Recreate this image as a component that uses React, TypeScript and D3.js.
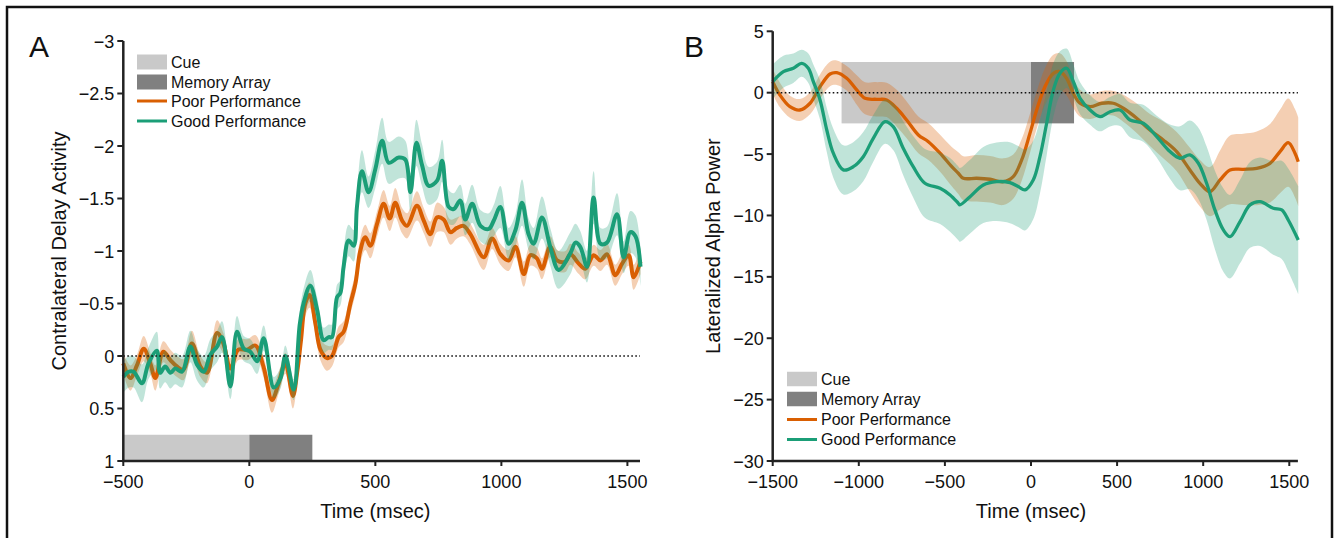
import React from 'react';
import * as d3 from 'd3';

// ---------- Panel A data: [time (ms), value, half-width of band] ----------
const poorA: [number, number, number][] = [
  [-500, 0.07, 0.1], [-472, 0.21, 0.12], [-446, 0.09, 0.1], [-419, -0.07, 0.12], [-393, 0.07, 0.1],
  [-373, 0.21, 0.12], [-341, -0.04, 0.1], [-313, 0.04, 0.1], [-287, 0.1, 0.1], [-261, 0.13, 0.1],
  [-228, -0.12, 0.12], [-194, 0.1, 0.1], [-168, 0.16, 0.1], [-128, -0.22, 0.12], [-103, -0.12, 0.1],
  [-75, 0.12, 0.1], [-44, -0.06, 0.1], [-9, -0.06, 0.1], [24, -0.1, 0.1], [56, 0.1, 0.1],
  [90, 0.42, 0.12], [115, 0.27, 0.1], [143, 0.07, 0.1], [173, 0.38, 0.12], [190, 0.15, 0.1],
  [205, -0.15, 0.1], [222, -0.5, 0.12], [239, -0.58, 0.12], [262, -0.31, 0.1], [282, -0.06, 0.1],
  [308, 0.02, 0.12], [328, 0.0, 0.1], [354, -0.18, 0.1], [374, -0.23, 0.1], [401, -0.5, 0.1],
  [421, -0.69, 0.1], [440, -1.0, 0.12], [460, -1.13, 0.12], [480, -1.05, 0.12], [507, -1.26, 0.12],
  [533, -1.45, 0.13], [557, -1.31, 0.12], [579, -1.46, 0.14], [606, -1.29, 0.12], [626, -1.24, 0.12],
  [665, -1.43, 0.14], [692, -1.29, 0.12], [718, -1.16, 0.12], [745, -1.32, 0.14], [771, -1.3, 0.12],
  [798, -1.18, 0.12], [824, -1.22, 0.1], [850, -1.24, 0.1], [877, -1.16, 0.1], [930, -0.94, 0.12],
  [963, -1.12, 0.1], [996, -0.97, 0.1], [1029, -0.91, 0.1], [1056, -1.04, 0.1], [1089, -0.78, 0.12],
  [1115, -0.96, 0.1], [1141, -0.93, 0.1], [1161, -0.83, 0.1], [1194, -1.04, 0.1], [1221, -0.91, 0.1],
  [1254, -0.9, 0.1], [1274, -0.97, 0.1], [1307, -0.88, 0.1], [1333, -0.83, 0.1], [1366, -0.96, 0.1],
  [1393, -0.91, 0.1], [1419, -0.97, 0.1], [1452, -0.77, 0.1], [1479, -0.88, 0.1], [1505, -0.96, 0.1],
  [1525, -0.75, 0.12], [1552, -0.9, 0.12],
];

const goodA: [number, number, number][] = [
  [-500, 0.2, 0.15], [-479, 0.15, 0.15], [-459, 0.15, 0.15], [-426, 0.26, 0.18], [-400, 0.07, 0.15],
  [-367, -0.05, 0.18], [-354, 0.16, 0.15], [-334, 0.1, 0.15], [-313, 0.16, 0.15], [-294, 0.12, 0.15],
  [-267, 0.15, 0.15], [-234, -0.09, 0.15], [-208, 0.08, 0.15], [-181, 0.15, 0.15], [-155, -0.01, 0.15],
  [-128, -0.09, 0.15], [-108, -0.18, 0.15], [-75, 0.29, 0.12], [-49, -0.23, 0.15], [-22, -0.07, 0.12],
  [4, -0.04, 0.12], [31, 0.05, 0.12], [57, -0.17, 0.12], [97, 0.3, 0.1], [124, 0.21, 0.1],
  [143, 0.0, 0.1], [176, 0.32, 0.1], [200, -0.3, 0.12], [215, -0.5, 0.14], [242, -0.67, 0.15],
  [269, -0.44, 0.12], [295, -0.15, 0.12], [315, -0.18, 0.12], [328, -0.18, 0.12], [348, -0.56, 0.12],
  [361, -0.6, 0.12], [374, -0.85, 0.15], [394, -1.1, 0.15], [414, -1.05, 0.15], [427, -1.42, 0.15],
  [447, -1.76, 0.2], [473, -1.56, 0.15], [500, -1.78, 0.18], [527, -2.05, 0.22], [553, -1.84, 0.2],
  [593, -1.89, 0.2], [619, -1.87, 0.18], [639, -1.56, 0.18], [663, -2.03, 0.22], [685, -1.82, 0.2],
  [712, -1.62, 0.18], [745, -1.67, 0.18], [765, -1.86, 0.2], [791, -1.42, 0.16], [811, -1.4, 0.15],
  [837, -1.48, 0.15], [857, -1.3, 0.15], [884, -1.45, 0.18], [917, -1.24, 0.15], [950, -1.21, 0.15],
  [970, -1.29, 0.15], [996, -1.42, 0.2], [1029, -1.07, 0.15], [1056, -1.2, 0.15], [1082, -1.46, 0.22],
  [1108, -1.16, 0.15], [1128, -1.07, 0.15], [1161, -1.32, 0.2], [1194, -1.04, 0.18], [1227, -0.82, 0.18],
  [1274, -0.98, 0.2], [1294, -1.08, 0.18], [1313, -1.04, 0.15], [1340, -0.85, 0.15], [1366, -1.51, 0.25],
  [1393, -1.07, 0.15], [1419, -1.08, 0.15], [1459, -1.35, 0.2], [1485, -0.94, 0.15], [1512, -1.18, 0.2],
  [1532, -1.14, 0.2], [1552, -0.85, 0.18],
];

// ---------- Panel B data: [time (ms), value, half-width of band] ----------
const poorB: [number, number, number][] = [
  [-1500, 0.9, 1.0], [-1458, -0.19, 1.0], [-1400, -1.14, 0.9], [-1342, -1.41, 0.9], [-1283, -0.86, 0.9],
  [-1225, 0.49, 1.0], [-1167, 1.52, 1.0], [-1128, 1.63, 1.0], [-1070, 1.17, 1.0], [-1012, 0.22, 1.2],
  [-964, -0.46, 1.3], [-896, -0.54, 1.4], [-838, -0.59, 1.4], [-780, -1.27, 1.5], [-722, -2.22, 1.5],
  [-654, -3.44, 1.5], [-596, -3.99, 1.5], [-528, -4.93, 1.5], [-460, -6.03, 1.6], [-422, -6.56, 1.7],
  [-393, -6.97, 1.8], [-315, -6.97, 1.9], [-238, -7.05, 1.9], [-161, -7.25, 1.9], [-103, -6.84, 1.8],
  [-54, -5.48, 1.7], [-6, -3.31, 1.6], [33, -1.41, 1.5], [81, 0.49, 1.5], [130, 1.58, 1.5],
  [168, 1.71, 1.5], [207, 1.17, 1.4], [246, -0.05, 1.2], [285, -0.86, 1.1], [343, -1.14, 1.0],
  [411, -0.86, 1.0], [478, -0.86, 1.0], [536, -1.27, 1.1], [614, -2.08, 1.2], [691, -3.04, 1.3],
  [768, -3.85, 1.5], [846, -4.8, 1.6], [923, -6.29, 1.8], [981, -7.38, 1.9], [1039, -8.06, 2.0],
  [1098, -7.11, 2.4], [1156, -6.29, 2.8], [1233, -6.24, 2.9], [1311, -6.16, 3.0], [1388, -5.75, 3.2],
  [1446, -4.8, 3.4], [1494, -4.07, 3.6], [1533, -4.93, 3.6], [1552, -5.62, 3.6],
];

const goodB: [number, number, number][] = [
  [-1500, 0.9, 1.4], [-1438, 1.71, 1.3], [-1380, 1.99, 1.2], [-1332, 2.39, 1.1], [-1293, 1.99, 1.2],
  [-1264, 0.9, 1.4], [-1225, -0.59, 1.6], [-1186, -3.04, 1.8], [-1148, -4.93, 2.0], [-1090, -6.29, 2.0],
  [-1032, -6.03, 2.0], [-974, -5.21, 2.0], [-916, -3.72, 1.9], [-848, -2.36, 1.8], [-800, -2.77, 1.9],
  [-742, -4.53, 2.2], [-684, -6.03, 2.5], [-616, -7.38, 2.8], [-528, -7.79, 2.9], [-470, -8.33, 3.0],
  [-422, -9.01, 3.0], [-413, -9.14, 3.0], [-354, -8.47, 3.0], [-277, -7.52, 3.1], [-200, -7.25, 3.2],
  [-122, -7.33, 3.3], [-74, -7.65, 3.3], [-35, -7.92, 3.3], [13, -7.11, 3.2], [52, -5.21, 3.0],
  [91, -2.49, 2.6], [130, 0.22, 2.2], [168, 1.58, 1.8], [207, 1.99, 1.6], [246, 0.9, 1.4],
  [285, -0.46, 1.3], [343, -1.41, 1.2], [401, -1.95, 1.2], [459, -1.55, 1.2], [517, -1.41, 1.3],
  [575, -2.22, 1.4], [652, -2.49, 1.5], [730, -3.58, 1.7], [807, -4.8, 2.2], [865, -5.34, 2.6],
  [923, -5.07, 2.8], [972, -5.75, 2.9], [1020, -7.38, 3.0], [1068, -9.55, 3.2], [1117, -11.18, 3.4],
  [1156, -11.73, 3.4], [1214, -10.5, 3.4], [1272, -9.14, 3.5], [1330, -8.88, 3.6], [1407, -9.41, 3.8],
  [1456, -9.55, 4.0], [1494, -10.37, 4.2], [1552, -12.0, 4.4],
];

// ---------- Axis ticks ----------
const ticksAX = [-500, 0, 500, 1000, 1500];
const ticksAY = [-3, -2.5, -2, -1.5, -1, -0.5, 0, 0.5, 1];
const ticksBX = [-1500, -1000, -500, 0, 500, 1000, 1500];
const ticksBY = [5, 0, -5, -10, -15, -20, -25, -30];

// event windows [start, end]
const cueA: [number, number] = [-500, 0];
const memA: [number, number] = [0, 250];
const cueB: [number, number] = [-1100, 0];
const memB: [number, number] = [0, 250];

const legendItems = ['Cue', 'Memory Array', 'Poor Performance', 'Good Performance'];

const ORANGE = '#d95f02';
const GREEN = '#1b9e77';
const CUE = '#c9c9c9';
const MEM = '#808080';
const AXIS = '#222';
const FONT = '"Liberation Sans", Arial, Helvetica, sans-serif';

const fmt = (v: number) => (v < 0 ? '\u2212' + String(Math.abs(v)) : String(v));

type Series = [number, number, number][];

function Panel(props: {
  x: d3.ScaleLinear<number, number>;
  y: d3.ScaleLinear<number, number>;
  xTicks: number[];
  yTicks: number[];
  poor: Series;
  good: Series;
  cue: [number, number];
  mem: [number, number];
  barY: [number, number];
  lineW: number;
  letter: string;
  letterX: number;
  yTitle: string;
  yTitleX: number;
  xTitleAt: number;
  legendX: number;
  legendRows: number[];
  legendRectH: number;
}) {
  const { x, y } = props;
  const [x0, x1] = x.range();
  const [yTop, yBot] = [y.range()[0], y.range()[1]];
  const curve = d3.curveCatmullRom.alpha(0.5);
  const line = d3.line<[number, number, number]>().x(d => x(d[0])).y(d => y(d[1])).curve(curve);
  const area = d3
    .area<[number, number, number]>()
    .x(d => x(d[0]))
    .y0(d => y(d[1] - d[2]))
    .y1(d => y(d[1] + d[2]))
    .curve(curve);
  const lx = props.legendX;
  return (
    <g>
      {/* event rectangles */}
      <rect x={x(props.cue[0])} width={x(props.cue[1]) - x(props.cue[0])} y={y(props.barY[0])}
        height={y(props.barY[1]) - y(props.barY[0])} fill={CUE} />
      <rect x={x(props.mem[0])} width={x(props.mem[1]) - x(props.mem[0])} y={y(props.barY[0])}
        height={y(props.barY[1]) - y(props.barY[0])} fill={MEM} />
      {/* series */}
      <path d={area(props.poor) || ''} fill={ORANGE} fillOpacity={0.3} />
      <path d={line(props.poor) || ''} fill="none" stroke={ORANGE} strokeWidth={props.lineW} strokeLinejoin="round" />
      <path d={area(props.good) || ''} fill={GREEN} fillOpacity={0.28} />
      <path d={line(props.good) || ''} fill="none" stroke={GREEN} strokeWidth={props.lineW} strokeLinejoin="round" />
      {/* zero line */}
      <line x1={x0} x2={x(1550)} y1={y(0)} y2={y(0)} stroke="#111" strokeWidth={1.6} strokeDasharray="1.6,2.4" />
      {/* axes */}
      <line x1={x0} x2={x0} y1={yTop} y2={yBot + 1} stroke={AXIS} strokeWidth={2.5} />
      <line x1={x0 - 1} x2={x1} y1={yBot} y2={yBot} stroke={AXIS} strokeWidth={2.5} />
      {props.yTicks.map(t => (
        <g key={'y' + t}>
          <line x1={x0 - 6} x2={x0} y1={y(t)} y2={y(t)} stroke={AXIS} strokeWidth={2} />
          <text x={x0 - 9} y={y(t) + 6.5} textAnchor="end" fontSize={18} fontFamily={FONT} fill="#111">{fmt(t)}</text>
        </g>
      ))}
      {props.xTicks.map(t => (
        <g key={'x' + t}>
          <line x1={x(t)} x2={x(t)} y1={yBot} y2={yBot + 5} stroke={AXIS} strokeWidth={2} />
          <text x={x(t)} y={yBot + 27} textAnchor="middle" fontSize={18} fontFamily={FONT} fill="#111">{fmt(t)}</text>
        </g>
      ))}
      <text x={x(props.xTitleAt)} y={yBot + 57} textAnchor="middle" fontSize={20} fontFamily={FONT} fill="#111">
        Time (msec)
      </text>
      <text transform={`translate(${props.yTitleX},${(yTop + yBot) / 2}) rotate(-90)`} textAnchor="middle"
        fontSize={20} fontFamily={FONT} fill="#111">{props.yTitle}</text>
      <text x={props.letterX} y={57} fontSize={30} fontFamily={FONT} fill="#111">{props.letter}</text>
      {/* legend */}
      <rect x={lx} y={props.legendRows[0] - props.legendRectH / 2} width={30} height={props.legendRectH} fill={CUE} />
      <rect x={lx} y={props.legendRows[1] - props.legendRectH / 2} width={30} height={props.legendRectH} fill={MEM} />
      <line x1={lx} x2={lx + 30} y1={props.legendRows[2]} y2={props.legendRows[2]} stroke={ORANGE} strokeWidth={3} />
      <line x1={lx} x2={lx + 30} y1={props.legendRows[3]} y2={props.legendRows[3]} stroke={GREEN} strokeWidth={3} />
      {legendItems.map((s, i) => (
        <text key={s} x={lx + 34} y={props.legendRows[i] + 5.8} fontSize={16} fontFamily={FONT} fill="#111">{s}</text>
      ))}
    </g>
  );
}

export default function App() {
  const xA = d3.scaleLinear().domain([-500, 1550]).range([123.3, 640]);
  const yA = d3.scaleLinear().domain([-3, 1]).range([41, 461]);
  const xB = d3.scaleLinear().domain([-1500, 1550]).range([772.7, 1297.9]);
  const yB = d3.scaleLinear().domain([5, -30]).range([31.3, 461]);
  return (
    <svg width={1334} height={538} style={{ position: 'absolute', left: 0, top: 0, background: '#fff' }}>
      <rect x={0} y={0} width={1334} height={538} fill="#fff" />
      <Panel x={xA} y={yA} xTicks={ticksAX} yTicks={ticksAY} poor={poorA} good={goodA}
        cue={cueA} mem={memA} barY={[0.75, 1]} lineW={4} letter="A" letterX={29}
        yTitle="Contralateral Delay Activity" yTitleX={66} xTitleAt={500}
        legendX={137} legendRows={[62, 82, 101, 121]} legendRectH={15} />
      <Panel x={xB} y={yB} xTicks={ticksBX} yTicks={ticksBY} poor={poorB} good={goodB}
        cue={cueB} mem={memB} barY={[2.5, -2.5]} lineW={3.3} letter="B" letterX={684}
        yTitle="Lateralized Alpha Power" yTitleX={720} xTitleAt={0}
        legendX={787} legendRows={[379, 399, 419.5, 439.5]} legendRectH={14.5} />
      <rect x={7} y={7} width={1325} height={600} fill="none" stroke="#111" strokeWidth={2.5} />
    </svg>
  );
}
